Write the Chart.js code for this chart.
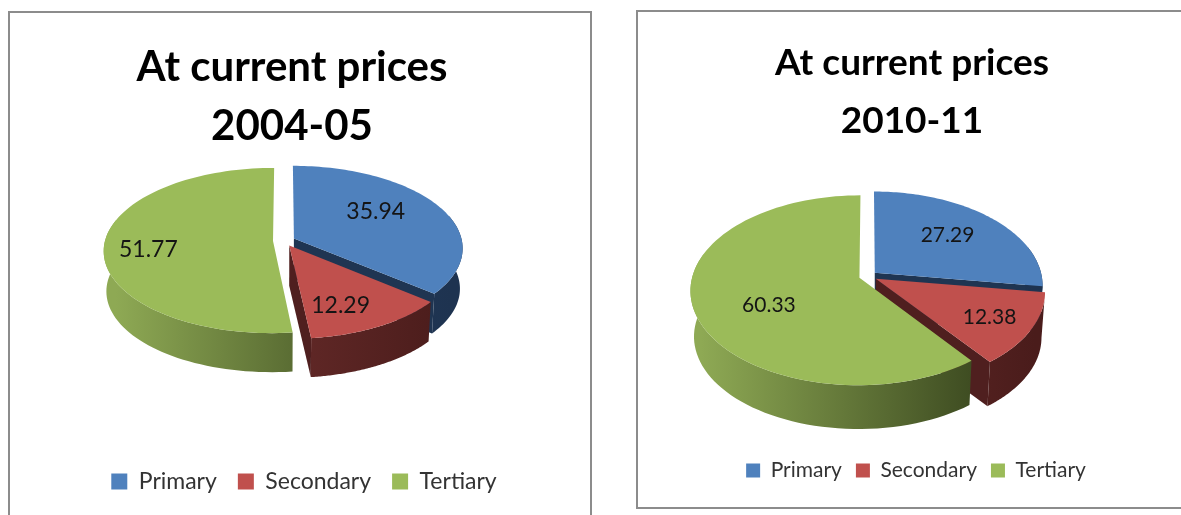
<!DOCTYPE html>
<html><head><meta charset="utf-8">
<script src="https://cdn.jsdelivr.net/npm/chart.js@4/dist/chart.umd.js"></script>
<style>
html,body{margin:0;padding:0;background:#fff;width:1181px;height:515px;overflow:hidden}
.frame{position:absolute;box-sizing:border-box;border:2px solid #8c8c8c;background:#fff}
.holder{position:absolute}
</style></head><body>
<div class="frame" style="left:8px;top:11px;width:584px;height:520px"></div>
<div class="frame" style="left:636px;top:10px;width:560px;height:499px"></div>
<div class="holder" style="left:0;top:0;width:584px;height:515px"><canvas id="c1"></canvas></div>
<div class="holder" style="left:636px;top:0;width:552px;height:515px"><canvas id="c2"></canvas></div>
<script>
const categories = ['Primary', 'Secondary', 'Tertiary'];
const values2004 = [35.94, 12.29, 51.77];
const values2010 = [27.29, 12.38, 60.33];
const title2004 = ['At current prices', '2004-05'];
const title2010 = ['At current prices', '2010-11'];
const topColors = ['#4f81bd', '#c0504d', '#9bbb59'];
const wallColors = [['#27466b', '#1e3350'], ['#7a3533', '#4a1c1b'], ['#8ea954', '#2c3716']];
const edgeColors = ['#1f3552', '#4f1f1f', '#3d4b20'];

function projector(el, v) {
  const {x, y, startAngle, endAngle, outerRadius: R} = el.getProps(['x', 'y', 'startAngle', 'endAngle', 'outerRadius'], true);
  const cx = x + v.shiftX, cy = y + v.shiftY;
  const mid = (startAngle + endAngle) / 2 + Math.PI / 2;
  const d = (el.options.offset || 0) / R;
  const ox = d * Math.sin(mid), oy = -d * Math.cos(mid);
  const top = (X, Y) => {
    const wx = ox + X, wy = oy + Y, w = 1 - v.persp * wy;
    return [cx + R * wx / w, cy + v.squash * R * wy / w];
  };
  const bottom = (X, Y) => {
    const [px, py] = top(X, Y);
    return [cx + v.shrink * (px - cx), cy + v.shrink * (py - cy) + v.depth];
  };
  return {top, bottom, cx, cy, R, mid, startAngle, endAngle};
}

class Arc3D extends Chart.ArcElement {
  static id = 'arc3d';
  draw(ctx) {
    const v = this.view;
    if (!v) return;
    const p = projector(this, v);
    const steps = 90, rim = [];
    for (let i = 0; i <= steps; i++) {
      const t = p.startAngle + (p.endAngle - p.startAngle) * i / steps + Math.PI / 2;
      rim.push([Math.sin(t), -Math.cos(t)]);
    }
    const poly = (pts, fill) => {
      ctx.beginPath();
      pts.forEach((q, i) => i ? ctx.lineTo(q[0], q[1]) : ctx.moveTo(q[0], q[1]));
      ctx.closePath();
      ctx.fillStyle = fill;
      ctx.fill();
    };
    ctx.save();
    const a = rim[0], b = rim[steps];
    // only the radial faces that turn toward the viewer
    if (Math.sin(p.startAngle + Math.PI / 2) < -0.05) {
      poly([p.top(0, 0), p.top(a[0], a[1]), p.bottom(a[0], a[1]), p.bottom(0, 0)], edgeColors[this.sliceIndex]);
    }
    if (Math.sin(p.endAngle + Math.PI / 2) > 0.05) {
      poly([p.top(0, 0), p.top(b[0], b[1]), p.bottom(b[0], b[1]), p.bottom(0, 0)], edgeColors[this.sliceIndex]);
    }
    // outer wall: front part of the rim only
    const front = rim.filter(q => q[1] > -0.3);
    if (front.length > 1) {
      const g = ctx.createLinearGradient(p.cx - p.R, 0, p.cx + p.R, 0);
      g.addColorStop(0, wallColors[this.sliceIndex][0]);
      g.addColorStop(1, wallColors[this.sliceIndex][1]);
      poly(front.map(q => p.top(q[0], q[1])).concat(front.slice().reverse().map(q => p.bottom(q[0], q[1]))), g);
    }
    poly([p.top(0, 0)].concat(rim.map(q => p.top(q[0], q[1]))), topColors[this.sliceIndex]);
    ctx.restore();
  }
}
Chart.register(Arc3D);
Chart.defaults.datasets.pie.dataElementType = 'arc3d';

const pie3d = {
  id: 'pie3d',
  beforeDatasetsDraw(chart, args, opts) {
    chart.getDatasetMeta(0).data.forEach((el, i) => { el.view = opts; el.sliceIndex = i; });
  },
  afterDatasetsDraw(chart, args, opts) {
    const ctx = chart.ctx, values = chart.data.datasets[0].data;
    ctx.save();
    ctx.font = opts.labelFont;
    ctx.fillStyle = '#141414';
    ctx.textAlign = 'center';
    ctx.textBaseline = 'middle';
    chart.getDatasetMeta(0).data.forEach((el, i) => {
      const p = projector(el, opts);
      const [x, y] = p.top(opts.labelR * Math.sin(p.mid), -opts.labelR * Math.cos(p.mid));
      const n = opts.labelNudge[i];
      ctx.fillText(values[i].toFixed(2), x + n[0], y + n[1]);
    });
    ctx.restore();
  },
  beforeDraw(chart, args, opts) {
    if (!chart.$legendMoved) {
      chart.legend.left += opts.legendShift;
      chart.legend.right += opts.legendShift;
      chart.$legendMoved = true;
    }
  }
};

function build(id, title, values, radius, titleFont, lineH, titleTop, legendFont, legendBox, legendPad, legendBottom, view) {
  return new Chart(document.getElementById(id), {
    type: 'pie',
    plugins: [pie3d],
    data: {
      labels: categories,
      datasets: [{data: values, backgroundColor: topColors, borderWidth: 0, offset: view.explode, radius: radius}]
    },
    options: {
      responsive: true,
      maintainAspectRatio: false,
      animation: false,
      layout: {padding: {bottom: legendBottom}},
      plugins: {
        tooltip: {enabled: false},
        title: {display: true, text: title, color: '#000',
          font: {family: 'Lato', weight: 'bold', size: titleFont, lineHeight: lineH},
          padding: {top: titleTop, bottom: 0}},
        legend: {position: 'bottom',
          labels: {color: '#333', boxWidth: legendBox, boxHeight: legendBox, padding: legendPad,
            font: {family: 'Lato', size: legendFont}}},
        pie3d: view
      }
    }
  });
}

build('c1', title2004, values2004, 168, 42, 1.41, 38, 23, 16, 21, 12, {
  explode: 11, shiftX: -8, shiftY: -62, persp: 0.115, squash: 0.485, shrink: 0.985, depth: 40.4,
  labelFont: '23px Lato', labelR: 0.55, labelNudge: [[1, -8], [4, 18], [-32, 6]], legendShift: 12
});
build('c2', title2010, values2010, 167, 37, 1.57, 34, 21, 14, 14, 24, {
  explode: 9, shiftX: -44, shiftY: -22, persp: 0.132, squash: 0.556, shrink: 0.98, depth: 46,
  labelFont: '21px Lato', labelR: 0.55, labelNudge: [[7, -6], [31, 11], [-1, 11]], legendShift: 4
});
</script>
</body></html>
